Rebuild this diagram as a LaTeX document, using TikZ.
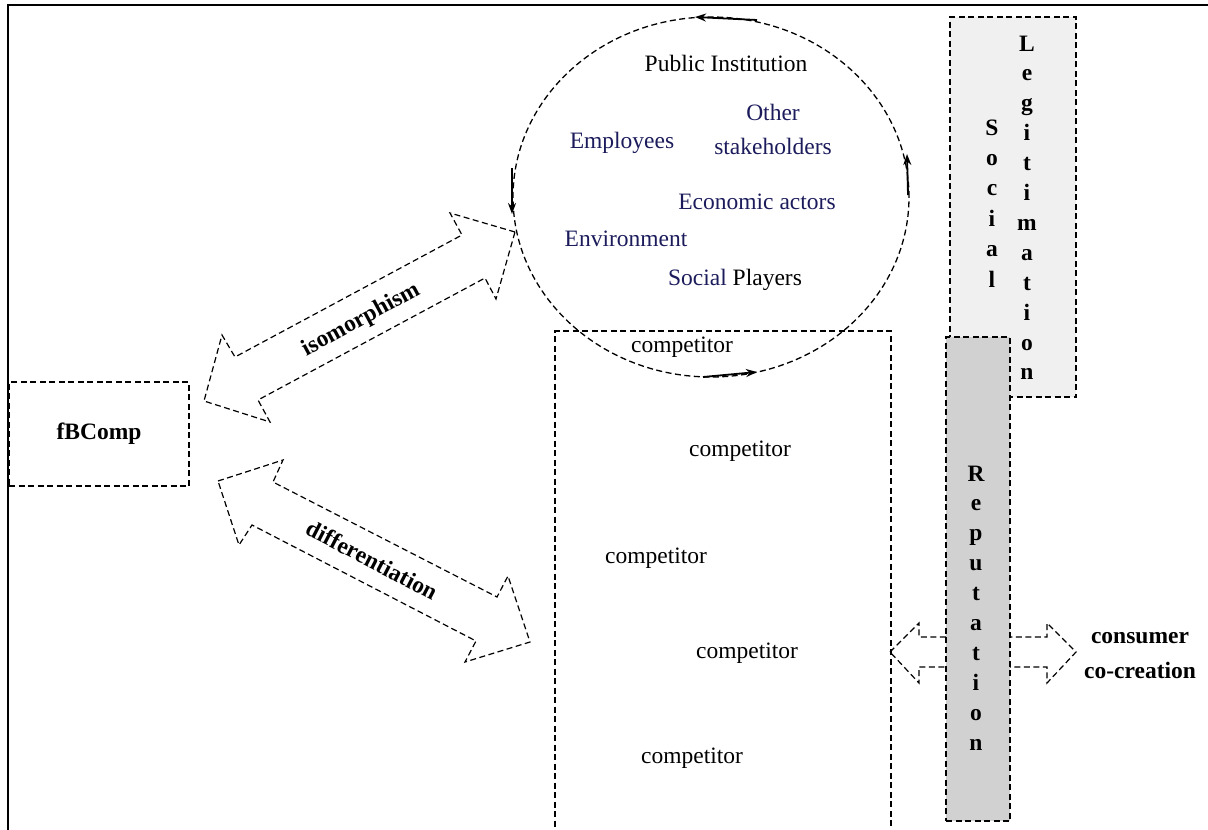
\documentclass[tikz,border=0pt]{standalone}
\usepackage{fontspec}
\setmainfont{Liberation Serif}
\usetikzlibrary{arrows.meta,shapes.geometric}
\definecolor{navy}{RGB}{28,28,92}
\begin{document}
\begin{tikzpicture}[x=1pt,y=-1pt,
  dsh/.style={dash pattern=on 6pt off 3.5pt, line width=1.3pt},
  txt/.style={font=\fontsize{23.5}{27}\selectfont, inner sep=0pt},
  btxt/.style={font=\fontsize{23.5}{27}\selectfont\bfseries, inner sep=0pt},
  nv/.style={txt, text=navy},
  letter/.style={btxt, anchor=base},
  circarrow/.style={line width=1.8pt, -{Stealth[length=11pt,width=8pt]}},
  blockarrow/.style={dsh, line width=1.2pt, line join=miter}
]
\useasboundingbox (0,0) rectangle (1208,830);
% frame
\draw[line width=2.2pt] (8,831) -- (8,5) -- (1209,5);

% fBComp
\node[draw, dsh, minimum width=180pt, minimum height=104pt, btxt] (fb) at (99,434) {fBComp};

% circle of stakeholders
\node[draw, dsh, ellipse, minimum width=396pt, minimum height=360pt, inner sep=0pt] (circ) at (711,197) {};
\coordinate (t1) at (757,20);  \coordinate (t2) at (695,17);
\coordinate (l1) at (512,168); \coordinate (l2) at (512,214);
\coordinate (b1) at (703,377); \coordinate (b2) at (757,372);
\coordinate (r1) at (908,195); \coordinate (r2) at (907,154);
\draw[circarrow] (t1) -- (t2);
\draw[circarrow] (l1) -- (l2);
\draw[circarrow] (b1) -- (b2);
\draw[circarrow] (r1) -- (r2);

\node[txt] (pub) at (726,63) {Public Institution};
\node[nv] (oth) at (773,112) {Other};
\node[nv] (stk) at (773,146) {stakeholders};
\node[nv] (emp) at (622,143) {Employees};
\node[nv] (eco) at (757,202) {Economic actors};
\node[nv] (env) at (626,239) {Environment};
\node[txt] (soc) at (735,280) {{\color{navy}Social} Players};

% competitors box
\node[draw, dsh, minimum width=336pt, minimum height=520pt, inner sep=0pt] (comp) at (723,591) {};
\node[txt] (c1) at (682,347) {competitor};
\node[txt] (c2) at (740,451) {competitor};
\node[txt] (c3) at (656,558) {competitor};
\node[txt] (c4) at (747,653) {competitor};
\node[txt] (c5) at (692,758) {competitor};

% consumer co-creation double arrow
\draw[blockarrow] (890,652) -- (919,623) -- (919,637) -- (1047,637) -- (1047,623) -- (1076,652)
  -- (1047,683) -- (1047,667) -- (919,667) -- (919,683) -- cycle;
\node[btxt] (cons) at (1140,638) {consumer};
\node[btxt] (cocr) at (1140,670) {co-creation};

% Social Legitimation
\node[draw, dsh, fill=gray!12, minimum width=126pt, minimum height=380pt, inner sep=0pt] (leg) at (1013,207) {};
\foreach \c [count=\i from 0] in {S,o,c,i,a,l}
  \node[letter] (s\i) at (992,135+30.4*\i) {\c};
\foreach \c [count=\i from 0] in {L,e,g,i,t,i,m,a,t,i,o,n}
  \node[letter] (g\i) at (1027,51+29.9*\i) {\c};

% Reputation
\node[draw, dsh, fill=gray!36, minimum width=64pt, minimum height=484pt, inner sep=0pt] (rep) at (978,579) {};
\foreach \c [count=\i from 0] in {R,e,p,u,t,a,t,i,o,n}
  \node[letter] (r\i) at (976,481+29.9*\i) {\c};

% isomorphism double arrow
\draw[blockarrow] (515,232) -- (450,213) -- (462,235) -- (235,357) -- (222,335) -- (204,401)
  -- (270,422) -- (258,400) -- (485,278) -- (496,299) -- cycle;
\node[btxt, rotate=28.5] (iso) at (361,320) {isomorphism};

% differentiation double arrow
\draw[blockarrow] (218,481) -- (283,460) -- (273,482) -- (497,597) -- (508,576) -- (530,642)
  -- (465,662) -- (476,641) -- (252,525) -- (239,545) -- cycle;
\node[btxt, rotate=-27.5] (dif) at (372,560) {differentiation};
\end{tikzpicture}
\end{document}
